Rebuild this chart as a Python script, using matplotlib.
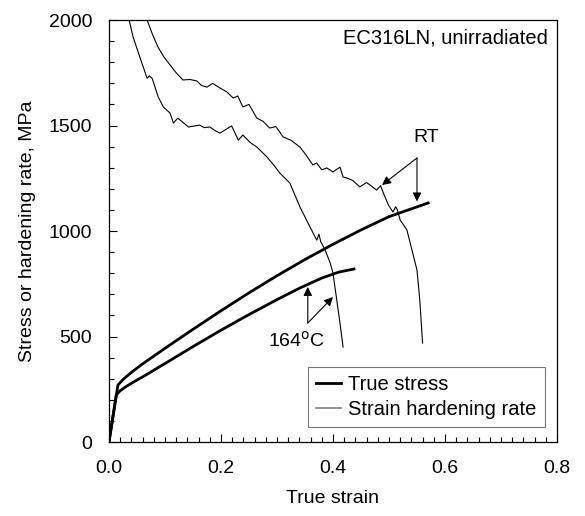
import matplotlib
matplotlib.use("Agg")
import matplotlib.pyplot as plt
from matplotlib.ticker import MultipleLocator

plt.rcParams['font.family'] = ['Liberation Sans', 'DejaVu Sans']

# True stress curves (strain, MPa)
rt_stress_x = [0.0, 0.016, 0.025, 0.04, 0.061, 0.1, 0.15, 0.2, 0.25, 0.3, 0.35,
               0.4, 0.45, 0.5, 0.57]
rt_stress_y = [0, 270, 296, 330, 372, 444, 534, 622, 707, 788, 865,
               937, 1005, 1068, 1133]
t164_stress_x = [0.0, 0.013, 0.02, 0.03, 0.045, 0.061, 0.1, 0.15, 0.2, 0.25,
                 0.3, 0.341, 0.38, 0.41, 0.4375]
t164_stress_y = [0, 223, 243, 262, 286, 310, 372, 452, 530, 604,
                 675, 730, 777, 805, 820]

# Strain hardening rate curves
rt_hard_x = [0.068, 0.078, 0.0875, 0.098, 0.109, 0.12, 0.132, 0.145, 0.157, 0.165, 0.175,
             0.185, 0.198, 0.21, 0.222, 0.23, 0.239, 0.25, 0.264, 0.275, 0.287, 0.298,
             0.311, 0.325, 0.341, 0.352, 0.364, 0.371, 0.38, 0.389, 0.4, 0.4125, 0.418,
             0.425, 0.435, 0.448, 0.46, 0.478, 0.485, 0.49, 0.499, 0.507, 0.512, 0.515,
             0.52, 0.532, 0.541, 0.55, 0.555, 0.56]
rt_hard_y = [2000, 1930, 1872, 1825, 1787, 1750, 1716, 1718, 1711, 1690, 1682,
             1700, 1678, 1660, 1630, 1640, 1588, 1600, 1535, 1520, 1488, 1495,
             1446, 1430, 1398, 1360, 1313, 1322, 1290, 1299, 1280, 1303, 1256,
             1251, 1240, 1209, 1230, 1194, 1215, 1180, 1123, 1090, 1115, 1100,
             1052, 1005, 910, 815, 673, 469]
t164_hard_x = [0.036, 0.043, 0.055, 0.068, 0.072, 0.077, 0.088, 0.097, 0.109, 0.115,
               0.123, 0.142, 0.162, 0.17, 0.18, 0.19, 0.198, 0.219, 0.231, 0.239,
               0.252, 0.264, 0.282, 0.295, 0.305, 0.323, 0.341, 0.359, 0.371, 0.375,
               0.378, 0.386, 0.395, 0.4, 0.406, 0.4125, 0.418]
t164_hard_y = [2000, 1920, 1825, 1724, 1735, 1724, 1635, 1588, 1559, 1512,
               1535, 1493, 1502, 1490, 1493, 1475, 1464, 1498, 1431, 1455,
               1420, 1398, 1351, 1310, 1275, 1227, 1114, 1019, 957, 985,
               950, 910, 848, 801, 687, 564, 450]

fig = plt.figure(figsize=(5.85, 5.16), dpi=100)
ax = fig.add_axes([0.1863, 0.1434, 0.7658, 0.8178])

ax.plot(rt_stress_x, rt_stress_y, color='black', lw=2.0, label='True stress', zorder=3)
ax.plot(t164_stress_x, t164_stress_y, color='black', lw=2.0, zorder=3)
ax.plot(rt_hard_x, rt_hard_y, color='black', lw=0.8, zorder=2)
ax.plot(t164_hard_x, t164_hard_y, color='black', lw=0.8, zorder=2)
# legend proxy for the grey hardening-rate line
ax.plot([], [], color='#808080', lw=1.2, label='Strain hardening rate')

ax.set_xlim(0, 0.8)
ax.set_ylim(0, 2000)
ax.xaxis.set_major_locator(MultipleLocator(0.2))
ax.xaxis.set_minor_locator(MultipleLocator(0.02))
ax.yaxis.set_major_locator(MultipleLocator(500))
ax.yaxis.set_minor_locator(MultipleLocator(100))
ax.xaxis.set_major_formatter(plt.FuncFormatter(lambda v, p: f"{v:.1f}"))
ax.tick_params(which='both', direction='in', top=False, right=False, labelsize=14)
ax.tick_params(which='major', length=6, width=0.8)
ax.tick_params(which='minor', length=3.5, width=0.8)
ax.tick_params(axis='x', which='major', pad=13)
ax.tick_params(axis='y', which='major', pad=12)
for s in ax.spines.values():
    s.set_linewidth(0.9)

ax.set_xlabel('True strain', fontsize=14, labelpad=9)
ax.set_ylabel('Stress or hardening rate, MPa', fontsize=14, labelpad=9)

ax.text(0.784, 1915, 'EC316LN, unirradiated', fontsize=14.5, ha='right', va='center')
ax.text(0.566, 1445, 'RT', fontsize=14, ha='center', va='center')
ax.text(0.335, 479, '164$^\\mathrm{o}$C', fontsize=14, ha='center', va='center')

arrow = dict(arrowstyle='-|>', color='black', lw=0.8, mutation_scale=13, shrinkA=0, shrinkB=0)
ax.annotate('', xy=(0.4875, 1218), xytext=(0.55, 1346), arrowprops=arrow)
ax.annotate('', xy=(0.55, 1140), xytext=(0.55, 1346), arrowprops=arrow)
ax.annotate('', xy=(0.355, 735), xytext=(0.355, 564), arrowprops=arrow)
ax.annotate('', xy=(0.4, 687), xytext=(0.355, 564), arrowprops=arrow)

leg = ax.legend(loc='lower right', bbox_to_anchor=(0.973, 0.0355), borderaxespad=0,
                fancybox=False, edgecolor='#555555', fontsize=14.5, handlelength=1.25,
                handletextpad=0.35, labelspacing=0.3, borderpad=0.4)
leg.get_frame().set_linewidth(0.8)

fig.savefig('out.png', dpi=100)
